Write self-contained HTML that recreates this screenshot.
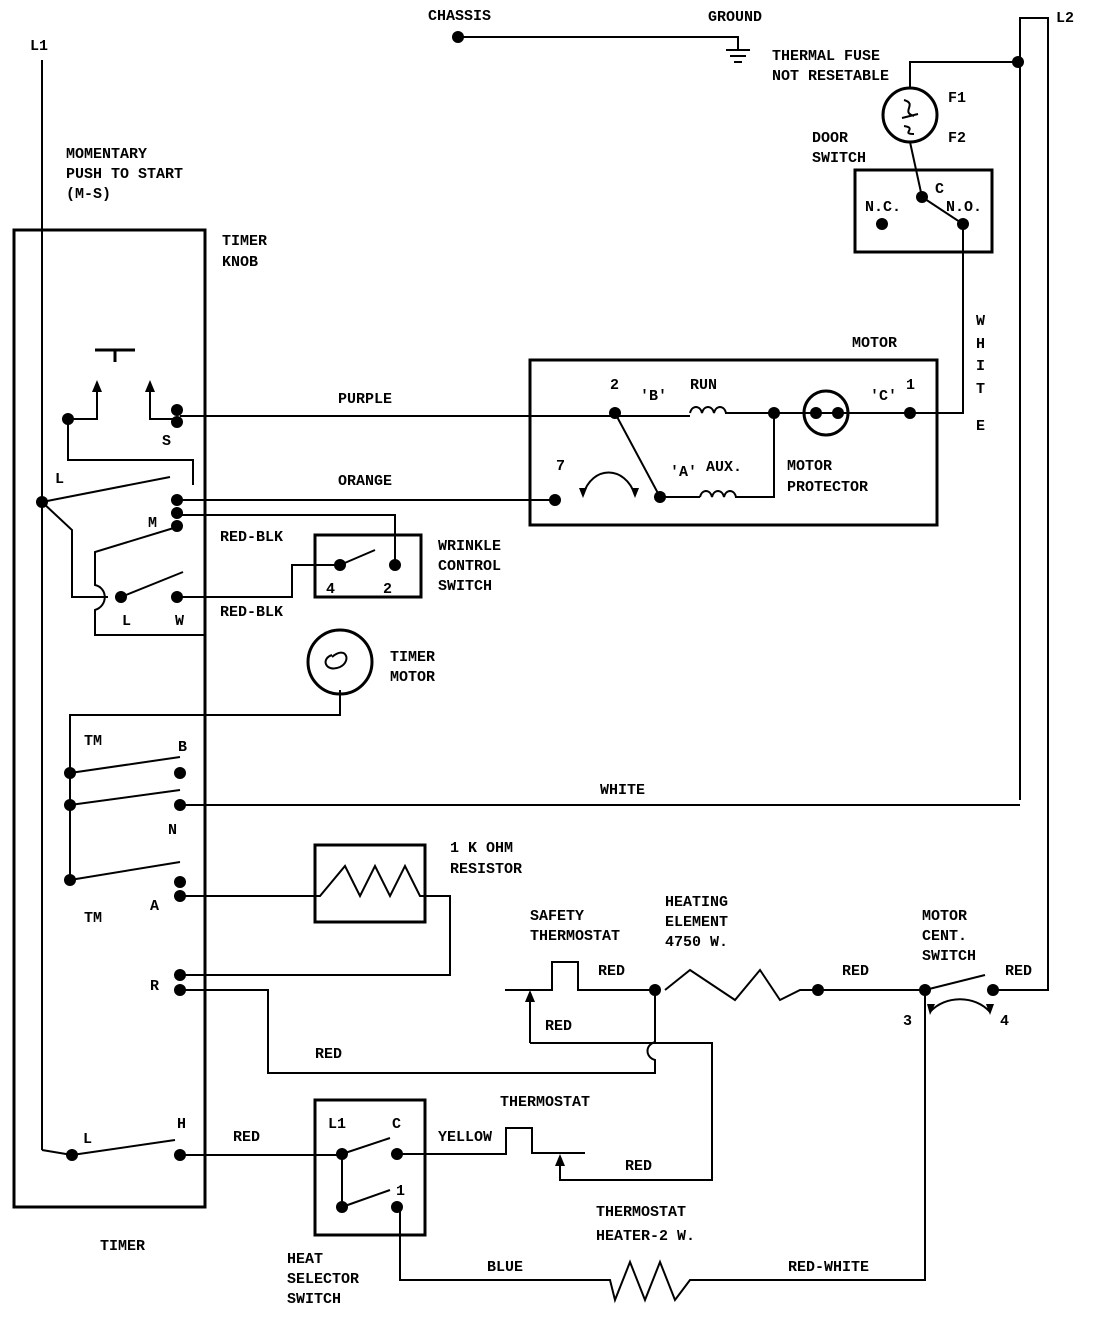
<!DOCTYPE html>
<html><head><meta charset="utf-8"><style>
html,body{margin:0;padding:0;background:#fff}
svg{display:block}
text{font-family:"Liberation Mono",monospace;font-weight:bold;font-size:15px;fill:#000}
</style></head><body>
<svg width="1100" height="1332" viewBox="0 0 1100 1332" xmlns="http://www.w3.org/2000/svg">
<g fill="none" stroke="#000" stroke-width="2">
<!-- L1 -->
<line x1="42" y1="60" x2="42" y2="1150"/>
<path d="M42 1150 L72 1155"/>
<!-- timer box -->
<rect x="14" y="230" width="191" height="977" stroke-width="3"/>
<!-- chassis ground -->
<path d="M458 37 H738 V50"/>
<path d="M726 50 H750 M730 56 H746 M734 62 H742"/>
<!-- L2 -->
<path d="M1020 800 V18 H1048 V990 H993"/>
<path d="M1018 62 H910 V88"/>
<circle cx="910" cy="115" r="27" stroke-width="3"/>
<path d="M904 100 C918 104,900 112,914 116 M902 118 L918 114 M904 126 C918 128,900 134,914 134"/>
<path d="M910 142 L922 197 L963 224 V413 H910"/>
<rect x="855" y="170" width="137" height="82" stroke-width="3"/>
<!-- motor -->
<rect x="530" y="360" width="407" height="165" stroke-width="3"/>
<path d="M180 416 H690 M725 413 H937"/>
<path d="M690 413 c2,-8 10,-8 12,0 c2,-8 10,-8 12,0 c2,-8 10,-8 12,0"/>
<circle cx="826" cy="413" r="22" stroke-width="3"/>
<path d="M615 413 L660 497 H700 M735 497 H774 V413"/>
<path d="M700 497 c2,-8 10,-8 12,0 c2,-8 10,-8 12,0 c2,-8 10,-8 12,0"/>
<path d="M583 495 C592 465,625 465,635 495"/>
<path d="M180 500 H555"/>
<!-- timer internals -->
<path d="M95 350 H135 M115 350 V362" stroke-width="3"/>
<path d="M68 419 H97 V385 M150 385 V419 H177"/>
<path d="M68 419 V460 H193 V485"/>
<path d="M42 502 L170 477"/>
<path d="M42 502 L72 530 V597 H108 M115 597 H121"/>
<path d="M121 597 L183 572"/>
<path d="M177 527 L95 552 V585 C108 588,108 606,95 610 V635 H205"/>
<path d="M177 515 H395 V565"/>
<path d="M340 565 L375 550"/>
<rect x="315" y="535" width="106" height="62" stroke-width="3"/>
<path d="M177 597 H292 V565 H340"/>
<circle cx="340" cy="662" r="32" stroke-width="3"/>
<path d="M332 655 c-12,4 -6,18 8,12 c12,-6 6,-22 -8,-10 M340 690 V715 H70 V880"/>
<path d="M70 773 L180 757 M70 805 L180 790 M70 880 L180 862"/>
<path d="M180 805 H1020"/>
<!-- resistor -->
<rect x="315" y="845" width="110" height="77" stroke-width="3"/>
<path d="M180 896 H320 L345 866 L360 896 L375 866 L390 896 L405 866 L420 896 H450 V975 H180"/>
<path d="M180 990 H268 V1073 H655 V1060 C645 1057,645 1045,655 1042 V990"/>
<!-- safety thermostat -->
<path d="M505 990 H552 V962 H578 V990 H655"/>
<path d="M530 1043 V1000 M530 1043 H712 V1180 H560 V1165"/>
<path d="M665 990 L690 970 L735 1000 L760 970 L780 1000 L800 990 H925"/>
<path d="M925 990 L985 975"/>
<path d="M930 1012 C945 995,975 995,990 1012"/>
<path d="M925 990 V1280 H690 L675 1300 L660 1262 L645 1300 L630 1262 L615 1300 L610 1280 H400 V1207"/>
<!-- heat selector -->
<rect x="315" y="1100" width="110" height="135" stroke-width="3"/>
<path d="M180 1155 H342 V1207 M342 1154 L390 1138 M342 1207 L390 1190"/>
<path d="M397 1154 H506 V1128 H532 V1153 H585"/>
<path d="M72 1155 L175 1140"/>
</g>
<g fill="#000" stroke="none">
<path d="M97 380 l-5 12 h10 z M150 380 l-5 12 h10 z M530 990 l-5 12 h10 z M560 1154 l-5 12 h10 z"/>
<path d="M583 498 l-4 -10 h8 z M635 498 l-4 -10 h8 z M930 1015 l-3 -11 h8 z M990 1015 l-4 -11 h8 z"/>
<circle cx="458" cy="37" r="6"/><circle cx="1018" cy="62" r="6"/>
<circle cx="882" cy="224" r="6"/><circle cx="922" cy="197" r="6"/><circle cx="963" cy="224" r="6"/>
<circle cx="615" cy="413" r="6"/><circle cx="774" cy="413" r="6"/><circle cx="816" cy="413" r="6"/><circle cx="838" cy="413" r="6"/><circle cx="910" cy="413" r="6"/>
<circle cx="555" cy="500" r="6"/><circle cx="660" cy="497" r="6"/>
<circle cx="68" cy="419" r="6"/><circle cx="177" cy="410" r="6"/><circle cx="177" cy="422" r="6"/>
<circle cx="42" cy="502" r="6"/><circle cx="177" cy="500" r="6"/><circle cx="177" cy="513" r="6"/><circle cx="177" cy="526" r="6"/>
<circle cx="121" cy="597" r="6"/><circle cx="177" cy="597" r="6"/>
<circle cx="340" cy="565" r="6"/><circle cx="395" cy="565" r="6"/>
<circle cx="70" cy="773" r="6"/><circle cx="180" cy="773" r="6"/><circle cx="70" cy="805" r="6"/><circle cx="180" cy="805" r="6"/><circle cx="70" cy="880" r="6"/>
<circle cx="180" cy="882" r="6"/><circle cx="180" cy="896" r="6"/><circle cx="180" cy="975" r="6"/><circle cx="180" cy="990" r="6"/>
<circle cx="655" cy="990" r="6"/><circle cx="818" cy="990" r="6"/><circle cx="925" cy="990" r="6"/><circle cx="993" cy="990" r="6"/>
<circle cx="72" cy="1155" r="6"/><circle cx="180" cy="1155" r="6"/>
<circle cx="342" cy="1154" r="6"/><circle cx="397" cy="1154" r="6"/><circle cx="342" cy="1207" r="6"/><circle cx="397" cy="1207" r="6"/>
</g>
<text x="30" y="50">L1</text><text x="1056" y="22">L2</text>
<text x="428" y="20">CHASSIS</text><text x="708" y="21">GROUND</text>
<text x="772" y="60">THERMAL FUSE</text><text x="772" y="80">NOT RESETABLE</text>
<text x="948" y="102">F1</text><text x="948" y="142">F2</text>
<text x="812" y="142">DOOR</text><text x="812" y="162">SWITCH</text>
<text x="865" y="211">N.C.</text><text x="935" y="193">C</text><text x="946" y="211">N.O.</text>
<text x="66" y="158">MOMENTARY</text><text x="66" y="178">PUSH TO START</text><text x="66" y="198">(M-S)</text>
<text x="222" y="245">TIMER</text><text x="222" y="266">KNOB</text>
<text x="852" y="347">MOTOR</text>
<text x="976" y="325">W</text><text x="976" y="348">H</text><text x="976" y="370">I</text><text x="976" y="393">T</text><text x="976" y="430">E</text>
<text x="610" y="389">2</text><text x="640" y="400">'B'</text><text x="690" y="389">RUN</text><text x="870" y="400">'C'</text><text x="906" y="389">1</text>
<text x="556" y="470">7</text><text x="670" y="476">'A'</text><text x="706" y="471">AUX.</text>
<text x="787" y="470">MOTOR</text><text x="787" y="491">PROTECTOR</text>
<text x="338" y="403">PURPLE</text><text x="338" y="485">ORANGE</text>
<text x="162" y="445">S</text><text x="55" y="483">L</text><text x="148" y="527">M</text>
<text x="220" y="541">RED-BLK</text><text x="220" y="616">RED-BLK</text>
<text x="122" y="625">L</text><text x="175" y="625">W</text>
<text x="438" y="550">WRINKLE</text><text x="438" y="570">CONTROL</text><text x="438" y="590">SWITCH</text>
<text x="326" y="593">4</text><text x="383" y="593">2</text>
<text x="390" y="661">TIMER</text><text x="390" y="681">MOTOR</text>
<text x="84" y="745">TM</text><text x="178" y="751">B</text><text x="168" y="834">N</text>
<text x="600" y="794">WHITE</text>
<text x="450" y="852">1 K OHM</text><text x="450" y="873">RESISTOR</text>
<text x="84" y="922">TM</text><text x="150" y="910">A</text><text x="150" y="990">R</text>
<text x="530" y="920">SAFETY</text><text x="530" y="940">THERMOSTAT</text>
<text x="665" y="906">HEATING</text><text x="665" y="926">ELEMENT</text><text x="665" y="946">4750 W.</text>
<text x="598" y="975">RED</text><text x="545" y="1030">RED</text><text x="842" y="975">RED</text>
<text x="922" y="920">MOTOR</text><text x="922" y="940">CENT.</text><text x="922" y="960">SWITCH</text>
<text x="1005" y="975">RED</text><text x="903" y="1025">3</text><text x="1000" y="1025">4</text>
<text x="315" y="1058">RED</text>
<text x="83" y="1143">L</text><text x="177" y="1128">H</text><text x="233" y="1141">RED</text>
<text x="328" y="1128">L1</text><text x="392" y="1128">C</text><text x="396" y="1195">1</text>
<text x="438" y="1141">YELLOW</text><text x="500" y="1106">THERMOSTAT</text><text x="625" y="1170">RED</text>
<text x="596" y="1216">THERMOSTAT</text><text x="596" y="1240">HEATER-2 W.</text>
<text x="487" y="1271">BLUE</text><text x="788" y="1271">RED-WHITE</text>
<text x="100" y="1250">TIMER</text>
<text x="287" y="1263">HEAT</text><text x="287" y="1283">SELECTOR</text><text x="287" y="1303">SWITCH</text>
</svg>
</body></html>
